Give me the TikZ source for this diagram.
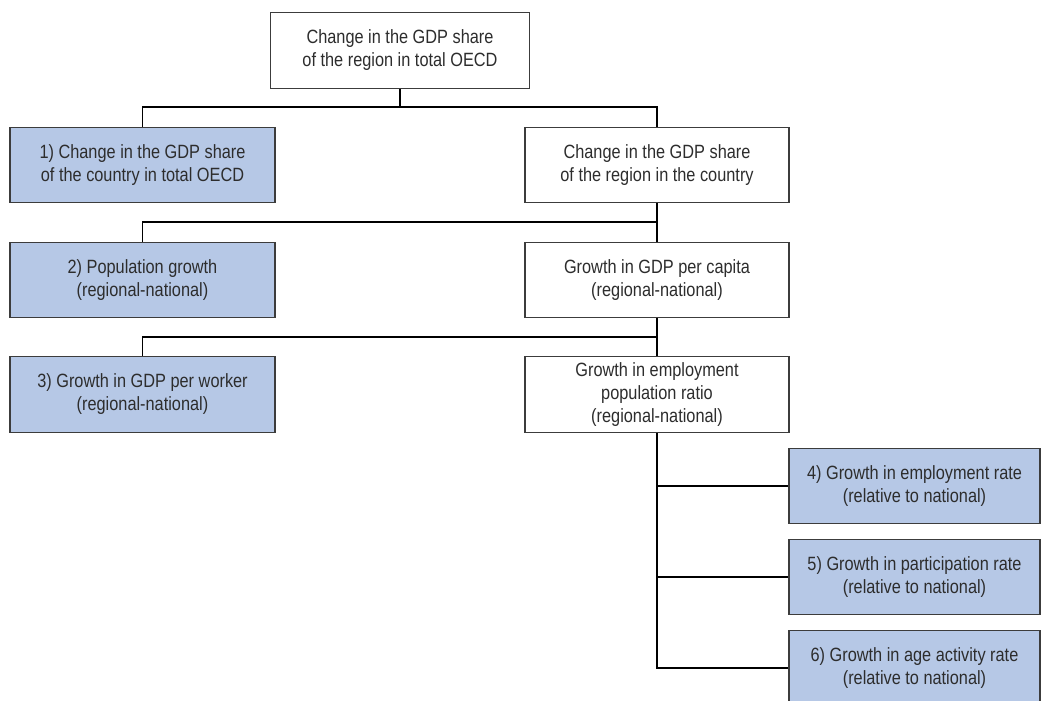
\documentclass[tikz,border=0pt]{standalone}
\usepackage{fontspec}
\setmainfont{Liberation Sans}[FakeStretch=0.85]
\definecolor{boxblue}{RGB}{182,200,230}
\definecolor{boxline}{RGB}{60,60,60}
\definecolor{txt}{RGB}{45,45,45}
\begin{document}
\begin{tikzpicture}[x=0.75pt,y=-0.75pt,
  base/.style={draw=boxline,line width=0.9pt,align=center,inner sep=0pt,
    text=txt,font=\fontsize{14.4}{17.25}\selectfont,minimum height=56.5pt},
  plain/.style={base,fill=white},
  hilite/.style={base,fill=boxblue},
  conn/.style={draw=black,line width=1.3pt}]
\useasboundingbox (0,0) rectangle (1042,700);
\clip (0,0) rectangle (1042,700);
\node[plain,minimum width=194.25pt] (top) at (400,50.5) {Change in the GDP share\\of the region in total OECD};
\node[hilite,minimum width=198.75pt] (b1) at (142.5,165) {1) Change in the GDP share\\of the country in total OECD};
\node[plain,minimum width=198pt] (r1) at (657,165) {Change in the GDP share\\of the region in the country};
\node[hilite,minimum width=198.75pt] (b2) at (142.5,280) {2) Population growth\\(regional-national)};
\node[plain,minimum width=198pt] (r2) at (657,280) {Growth in GDP per capita\\(regional-national)};
\node[hilite,minimum width=198.75pt] (b3) at (142.5,394.5) {3) Growth in GDP per worker\\(regional-national)};
\node[plain,minimum width=198pt] (r3) at (657,394.5) {Growth in employment\\population ratio\\(regional-national)};
\node[hilite,minimum width=188.25pt] (b4) at (914.5,486) {4) Growth in employment rate\\(relative to national)};
\node[hilite,minimum width=188.25pt] (b5) at (914.5,577) {5) Growth in participation rate\\(relative to national)};
\node[hilite,minimum width=188.25pt] (b6) at (914.5,668) {6) Growth in age activity rate\\(relative to national)};
\coordinate (h1) at (0,107);
\coordinate (h2) at (0,222);
\coordinate (h3) at (0,337);
\draw[conn] (top.south) -- (top.south |- h1);
\draw[conn] (b1.north) -- (b1.north |- h1) -- (r1.north |- h1) -- (r1.north);
\draw[conn] (r1.south) -- (r2.north);
\draw[conn] (b2.north) -- (b2.north |- h2) -- (r1.south |- h2);
\draw[conn] (r2.south) -- (r3.north);
\draw[conn] (b3.north) -- (b3.north |- h3) -- (r2.south |- h3);
\draw[conn] (r3.south) |- (b6.west);
\draw[conn] (r3.south |- b4.west) -- (b4.west);
\draw[conn] (r3.south |- b5.west) -- (b5.west);
\end{tikzpicture}
\end{document}
